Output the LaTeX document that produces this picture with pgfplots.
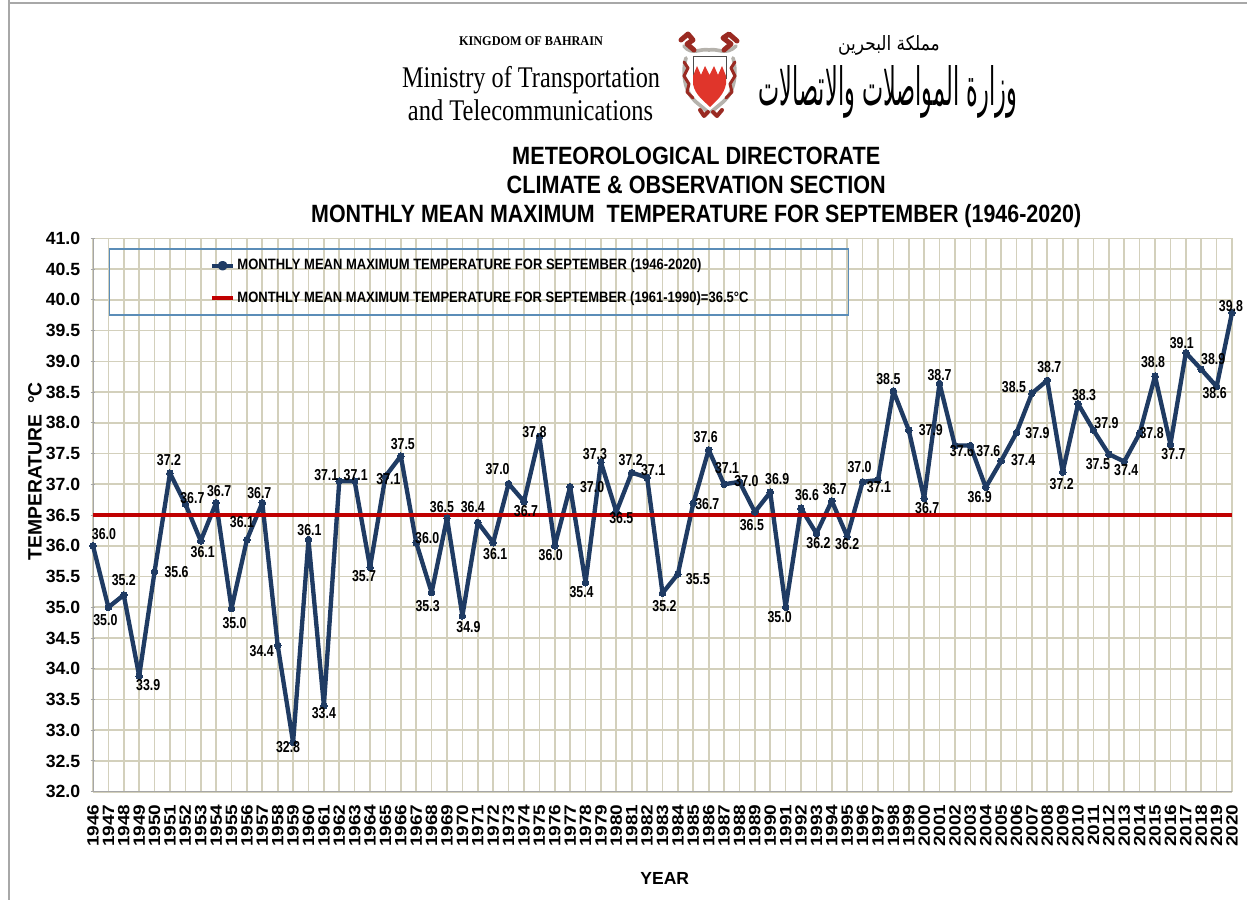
\documentclass[border=0pt]{standalone}
\usepackage{pgfplots}
\usepackage{pgfplotstable}
\usepackage{graphicx}
\usepackage{fontspec}
\pgfplotsset{compat=1.18}
\setmainfont{Liberation Sans}
\newfontfamily\serifb{Liberation Serif}
\newfontfamily\arabicfont[Script=Arabic]{DejaVu Sans}
\TeXXeTstate=1
\definecolor{navy}{HTML}{1F3B63}
\definecolor{redl}{HTML}{C00000}
\definecolor{gridc}{HTML}{D3D0BC}
\definecolor{boxb}{HTML}{5B8DB8}
\definecolor{frameg}{HTML}{A8A8A8}
\definecolor{crestr}{HTML}{E0352B}
\definecolor{crestd}{HTML}{9A2A22}
\definecolor{crestg}{HTML}{B5B2AC}
\newcommand{\fs}[1]{\fontsize{#1}{#1}\selectfont}
\newcommand{\wbox}[2]{\resizebox{#1}{\height}{#2}}
\pgfplotstableread{
year val label dx dy
1946 36.00 36.0 11 12
1947 35.00 35.0 -3 -13
1948 35.20 35.2 0 15
1949 33.88 33.9 9 -9
1950 35.58 35.6 22 0
1951 37.18 37.2 -1 13
1952 36.68 36.7 7 6
1953 36.08 36.1 2 -11
1954 36.70 36.7 3 12
1955 34.98 35.0 3 -15
1956 36.10 36.1 -5 18
1957 36.70 36.7 -3 10
1958 34.38 34.4 -16 -6
1959 32.80 32.8 -5 -5
1960 36.10 36.1 1 10
1961 33.40 33.4 0 -7
1962 37.05 37.1 -13 6
1963 37.05 37.1 1 6
1964 35.65 35.7 -6 -9
1965 37.13 37.1 3 -3
1966 37.46 37.5 2 12
1967 36.05 36.0 11 5
1968 35.24 35.3 -4 -14
1969 36.45 36.5 -5 11
1970 34.86 34.9 6 -11
1971 36.38 36.4 -5 15
1972 36.05 36.1 2 -11
1973 37.01 37.0 -11 15
1974 36.72 36.7 2 -10
1975 37.78 37.8 -5 4
1976 36.00 36.0 -4 -9
1977 36.96 37.0 22 0
1978 35.40 35.4 -4 -9
1979 37.36 37.3 -6 8
1980 36.55 36.5 5 -6
1981 37.19 37.2 -1 13
1982 37.11 37.1 6 7
1983 35.23 35.2 2 -13
1984 35.54 35.5 20 -5
1985 36.69 36.7 14 -1
1986 37.56 37.6 -3 13
1987 37.00 37.1 3 16
1988 37.04 37.0 7 1
1989 36.55 36.5 -3 -13
1990 36.87 36.9 7 13
1991 35.00 35.0 -6 -10
1992 36.61 36.6 6 13
1993 36.20 36.2 2 -10
1994 36.73 36.7 3 12
1995 36.15 36.2 0 -7
1996 37.04 37.0 -3 15
1997 37.07 37.1 1 -7
1998 38.52 38.5 -5 12
1999 37.88 37.9 22 0
2000 36.77 36.7 3 -10
2001 38.64 38.7 0 8
2002 37.63 37.6 7 -5
2003 37.63 37.6 18 -5
2004 36.95 36.9 -6 -10
2005 37.38 37.4 22 1
2006 37.84 37.9 21 0
2007 38.48 38.5 -18 6
2008 38.69 38.7 2 13
2009 37.20 37.2 -1 -12
2010 38.31 38.3 6 9
2011 37.88 37.9 13 7
2012 37.49 37.5 -11 -10
2013 37.37 37.4 2 -9
2014 37.83 37.8 12 0
2015 38.76 38.8 -2 14
2016 37.65 37.7 3 -10
2017 39.14 39.1 -4 10
2018 38.87 38.9 12 10
2019 38.59 38.6 -2 -7
2020 39.79 39.8 -1 7
}\temps
\pgfplotstableread{
year val
1946 36.5
2020 36.5
}\normal
\begin{document}
\begin{tikzpicture}[x=0.6pt,y=0.6pt]
\useasboundingbox (0,0) rectangle (1247,900);
% page frame
\draw[frameg,line width=1.4pt] (9,900) -- (9,897) -- (1247,897);
\draw[frameg,line width=1.4pt] (9,900) -- (9,0);
% letterhead
\begin{scope}[shift={(0,900)},y=-0.6pt]
\node[inner sep=0pt,font=\serifb\bfseries\fs{8pt}] at (531,41) {\wbox{86.4pt}{KINGDOM OF BAHRAIN}};
\node[inner sep=0pt,font=\serifb\fs{18pt}] at (531,80) {\wbox{154.8pt}{Ministry of Transportation}};
\node[inner sep=0pt,font=\serifb\fs{18pt}] at (530.5,110) {\wbox{147pt}{and Telecommunications}};
\node[inner sep=0pt] at (889,45) {\resizebox{61pt}{9pt}{\arabicfont\beginR مملكة البحرين\endR}};
\node[inner sep=0pt] at (888,92) {\resizebox{155pt}{24pt}{\arabicfont\beginR وزارة المواصلات والاتصالات\endR}};
% crest: mantling
\draw[crestg,line width=2.2pt,line cap=round,line join=round] (684,46) .. controls (692,56) and (700,48) .. (709,50) .. controls (718,48) and (726,56) .. (736,46);
\draw[crestg,line width=2.2pt,line cap=round,line join=round] (686,58) .. controls (682,72) and (684,92) .. (696,102) -- (708,112);
\draw[crestg,line width=2.2pt,line cap=round,line join=round] (733,58) .. controls (737,72) and (735,92) .. (723,102) -- (711,112);
\draw[crestd,line width=3pt,line cap=round,line join=round] (681,40) -- (688,34) -- (693,40) -- (687,44) -- (694,50);
\draw[crestd,line width=3pt,line cap=round,line join=round] (737,41) -- (729,34) -- (723,38) -- (731,44) -- (724,50);
\draw[crestd,line width=1.8pt,line cap=round,line join=round] (684,62) -- (688,68) -- (684,76) -- (689,84) -- (687,92) -- (693,98);
\draw[crestd,line width=1.8pt,line cap=round,line join=round] (735,62) -- (731,68) -- (735,76) -- (730,84) -- (732,92) -- (726,98);
\draw[crestd,line width=2.4pt,line cap=round,line join=round] (700,110) -- (704,116) -- (708,112);
\draw[crestd,line width=2.4pt,line cap=round,line join=round] (713,112) -- (717,116) -- (722,110);
% crest: shield
\draw[gray!60!black,line width=.3pt,fill=white] (693,56) -- (726,56) -- (726,78) -- (693,78) -- cycle;
\fill[crestr] (693,76) -- (697,66) -- (701,75) -- (705,66) -- (709.5,75) -- (714,66) -- (718,75) -- (722,66) -- (726,76) -- (726,84) .. controls (724,95) and (716,101) .. (710,107) .. controls (704,101) and (695,95) .. (693,84) -- cycle;
\end{scope}
\begin{axis}[
  at={(55.8pt,64.98pt)}, anchor=south west,
  scale only axis, width=683.4pt, height=332pt,
  xmin=1946, xmax=2020, ymin=32, ymax=41,
  clip=false,
  axis x line=bottom, axis y line=left,
  axis line style={-, draw=gray!70, line width=.6pt},
  xtick=data,
  ytick={32,32.5,33,33.5,34,34.5,35,35.5,36,36.5,37,37.5,38,38.5,39,39.5,40,40.5,41},
  grid=major,
  major grid style={gridc, line width=1pt},
  tick style={draw=gray!70, line width=.6pt},
  major tick length=3pt,
  x tick style={draw=none},
  xticklabel={\scalebox{1}[.86]{\pgfmathprintnumber{\tick}}},
  xticklabel style={rotate=90, anchor=east, font=\bfseries\fs{11.4pt}, inner sep=0pt, xshift=-6pt,
    /pgf/number format/fixed, /pgf/number format/precision=0,
    /pgf/number format/1000 sep={}, /pgf/number format/assume math mode=true},
  yticklabel style={font=\bfseries\fs{10.6pt}, inner sep=0pt, xshift=-6pt,
    /pgf/number format/fixed, /pgf/number format/fixed zerofill, /pgf/number format/precision=1,
    /pgf/number format/assume math mode=true},
  title={\wbox{220.8pt}{METEOROLOGICAL DIRECTORATE}\\[2.4pt]\wbox{227.4pt}{CLIMATE \& OBSERVATION SECTION}\\[2.4pt]\wbox{462pt}{MONTHLY MEAN MAXIMUM\ \ TEMPERATURE FOR SEPTEMBER (1946-2020)}},
  every axis title/.style={at={(axis description cs:0.5296,1)}, anchor=south, yshift=6pt, align=center, inner sep=0pt, font=\bfseries\fs{15pt}},
  xlabel={YEAR},
  every axis x label/.style={at={(axis description cs:0.502,-0.157)}, anchor=center, font=\bfseries\fs{10.5pt}},
  ylabel={TEMPERATURE\ \ \textdegree C},
  every axis y label/.style={at={(axis description cs:-0.051,0.579)}, rotate=90, anchor=center, font=\bfseries\fs{11.6pt}},
  legend style={at={(axis description cs:0.014,0.982)}, anchor=north west, draw=boxb, line width=.8pt, fill=none,
     inner xsep=60pt, inner ysep=6pt, row sep=11.5pt, font=\bfseries\fs{9pt}, nodes={inner sep=0pt}},
  legend cell align=left,
]
\addplot[navy, line width=2.6pt, line join=round, mark=*, mark size=2pt, mark options={solid, fill=navy, draw=navy, line width=0pt},
   visualization depends on={\thisrow{dx} \as \dx},
   visualization depends on={\thisrow{dy} \as \dy},
   nodes near coords={\scalebox{.78}[1]{\pgfplotspointmeta}},
   point meta=explicit symbolic,
   every node near coord/.append style={anchor=center, inner sep=0pt, text=black, font=\bfseries\fs{9.5pt}, xshift={\dx*0.6pt}, yshift={\dy*0.6pt}},
   legend image code/.code={\draw[navy, line width=2.4pt] (0pt,0pt) -- (13pt,0pt); \fill[navy] (6.5pt,0pt) circle (1.6pt);\path (14pt,0pt);},
] table[x=year, y=val, meta=label] {\temps};
\addlegendentry{\wbox{278.4pt}{MONTHLY MEAN MAXIMUM TEMPERATURE FOR SEPTEMBER (1946-2020)}}
\addplot[redl, line width=2.8pt,
   legend image code/.code={\draw[redl, line width=2.6pt] (0pt,0pt) -- (13pt,0pt);\path (14pt,0pt);},
] table[x=year, y=val] {\normal};
\addlegendentry{\wbox{306.6pt}{MONTHLY MEAN MAXIMUM TEMPERATURE FOR SEPTEMBER (1961-1990)=36.5\textdegree C}}
\end{axis}
\end{tikzpicture}
\end{document}
